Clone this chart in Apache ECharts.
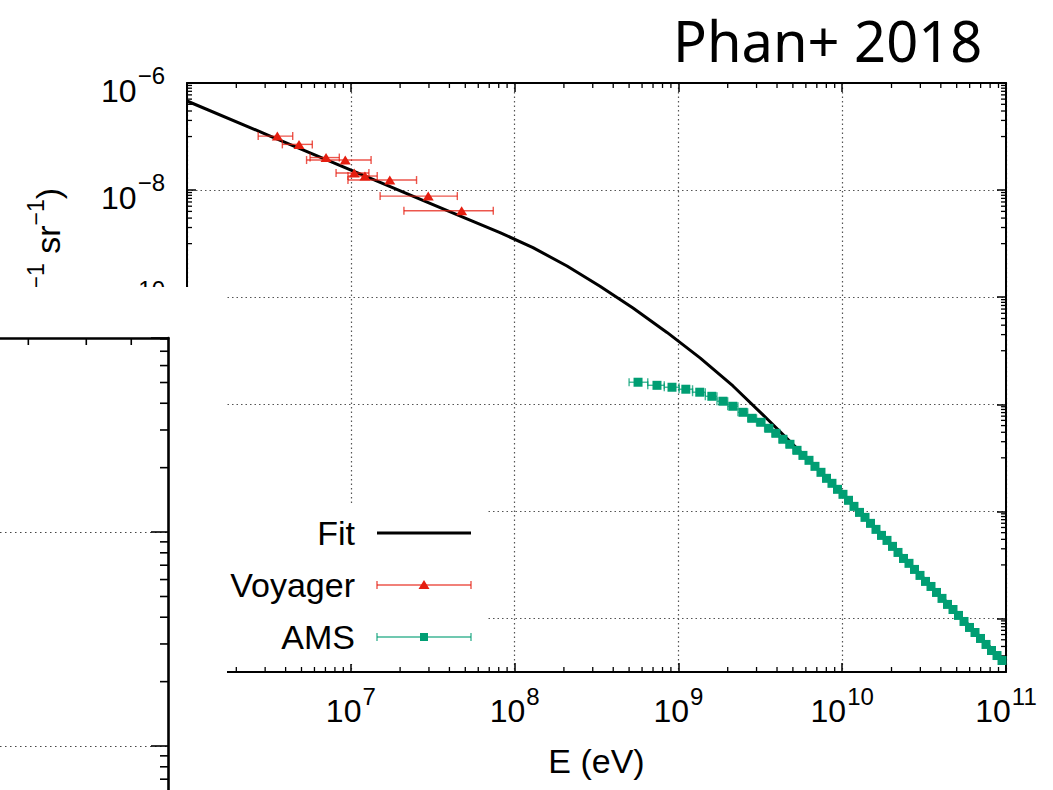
<!DOCTYPE html>
<html><head><meta charset="utf-8">
<script src="https://cdn.jsdelivr.net/npm/echarts@6/dist/echarts.min.js"></script>
<style>html,body{margin:0;padding:0;background:#fff}#c{width:1053px;height:790px}</style>
</head><body><div id="c"></div>
<script>
// ---------------- data (energies in eV, flux J) ----------------
const fitE = [1.000e6, 3.167e6, 1.003e7, 3.176e7, 5.122e7, 8.145e7, 1.295e8, 2.089e8, 3.322e8, 5.282e8, 8.519e8, 1.355e9, 2.154e9, 3.475e9, 5.525e9, 9.97e9, 2.254e10, 4.55e10, 1.000e11];
const fitJ = [4.61e-7, 1.044e-7, 2.365e-8, 5.36e-9, 2.895e-9, 1.606e-9, 8.42e-10, 3.815e-10, 1.606e-10, 6.256e-11, 2.198e-11, 7.365e-12, 2.198e-12, 5.36e-13, 1.323e-13, 2.17e-14, 1.626e-15, 1.75e-16, 1.429e-17];

const voyagerE = [3.56e6, 4.83e6, 7.06e6, 9.25e6, 1.05e7, 1.22e7, 1.73e7, 2.97e7, 4.75e7];
const voyagerELow = [2.72e6, 3.82e6, 5.64e6, 5.37e6, 8.13e6, 9.61e6, 9.61e6, 1.51e7, 2.11e7];
const voyagerEHigh = [4.42e6, 5.82e6, 8.51e6, 1.33e7, 1.29e7, 1.45e7, 2.52e7, 4.47e7, 7.41e7];
const voyagerJ = [1.02e-7, 7.14e-8, 4.05e-8, 3.64e-8, 2.08e-8, 1.83e-8, 1.54e-8, 7.73e-9, 4.10e-9];

const amsE = [5.67e8, 7.40e8, 9.14e8, 1.11e9, 1.35e9, 1.60e9, 1.87e9, 2.15e9, 2.48e9, 2.81e9, 3.19e9, 3.57e9, 3.94e9, 4.35e9, 4.80e9, 5.30e9, 5.76e9, 6.27e9, 6.82e9, 7.42e9, 8.02e9, 8.66e9, 9.36e9, 1.011e10, 1.093e10, 1.180e10, 1.275e10, 1.378e10, 1.489e10, 1.608e10, 1.738e10, 1.877e10, 2.028e10, 2.191e10, 2.367e10, 2.557e10, 2.763e10, 2.985e10, 3.225e10, 3.484e10, 3.765e10, 4.067e10, 4.394e10, 4.747e10, 5.129e10, 5.541e10, 5.987e10, 6.468e10, 6.988e10, 7.550e10, 8.157e10, 8.813e10, 9.455e10];
const amsJ = [2.58e-12, 2.26e-12, 2.08e-12, 1.91e-12, 1.68e-12, 1.41e-12, 1.14e-12, 9.18e-13, 7.08e-13, 5.47e-13, 4.61e-13, 3.56e-13, 2.87e-13, 2.22e-13, 1.79e-13, 1.38e-13, 1.11e-13, 8.98e-14, 6.93e-14, 5.36e-14, 4.14e-14, 3.34e-14, 2.58e-14, 2.08e-14, 1.61e-14, 1.24e-14, 9.57e-15, 7.73e-15, 5.97e-15, 4.61e-15, 3.56e-15, 2.87e-15, 2.22e-15, 1.71e-15, 1.32e-15, 1.07e-15, 8.24e-16, 6.37e-16, 4.92e-16, 3.96e-16, 3.06e-16, 2.37e-16, 1.83e-16, 1.47e-16, 1.14e-16, 8.79e-17, 6.79e-17, 5.47e-17, 4.23e-17, 3.27e-17, 2.52e-17, 2.03e-17, 1.64e-17];
const amsEdges = [5.0e8, 6.5e8, 8.2e8, 1.01e9, 1.22e9, 1.46e9, 1.72e9, 2.0e9, 2.31e9, 2.65e9, 3.0e9, 3.36e9, 3.73e9, 4.12e9, 4.54e9, 5.0e9, 5.49e9, 6.0e9, 6.54e9, 7.1e9, 7.72e9, 8.34e9, 9.0e9, 9.73e9, 1.051e10, 1.136e10, 1.227e10, 1.326e10, 1.433e10, 1.548e10, 1.672e10, 1.807e10, 1.951e10, 2.108e10, 2.278e10, 2.461e10, 2.659e10, 2.873e10, 3.104e10, 3.353e10, 3.622e10, 3.913e10, 4.228e10, 4.568e10, 4.935e10, 5.332e10, 5.761e10, 6.224e10, 6.724e10, 7.265e10, 7.849e10, 8.480e10, 9.16e10, 9.8e10];

// axis decades (exponents)
const xDecades = [6, 7, 8, 9, 10, 11];          // E from 1e6 to 1e11
const yDecades = [-6, -8, -10, -12, -14, -16];   // labelled flux decades
const yMinExp = -17, yMaxExp = -6;

const seriesNames = ['Fit', 'Voyager', 'AMS'];
const xTitle = 'E (eV)';
const yTitle = 'j (eV{s|−1} cm{s|−2} s{s|−1} sr{s|−1})';
const cornerTitle = 'Phan+ 2018';

// ---------------- helpers ----------------
const lx = v => Math.log10(v);
const ny = v => -Math.log10(v);     // y axis is inverted: -log10(J)
const FONT = "'Liberation Sans', Arial, Helvetica, sans-serif";
const RED = '#e51e10', GREEN = '#009e73';

const rich = {
  b: {fontSize: 32, fontFamily: FONT, color: '#000', lineHeight: 35, height: 20, verticalAlign: 'bottom'},
  s: {fontSize: 24, fontFamily: FONT, color: '#000', lineHeight: 35, height: 20, verticalAlign: 'top', padding: [0, 0, 0, 1]}
};
const xfmt = v => (Number.isInteger(v) && v > xDecades[0]) ? '{b|10}{s|' + v + '}' : '';
const yfmt = v => (yDecades.indexOf(-v) >= 0) ? '{b|10}{s|−' + v + '}' : '';

// minor ticks (gnuplot style log ticks)
const mainMinor = [];
for (let n = xDecades[0]; n < xDecades[xDecades.length - 1]; n++)
  for (let k = 2; k <= 9; k++) mainMinor.push([n + lx(k), -yMaxExp, 0]);
for (let e = yMaxExp - 1; e >= yMinExp; e -= 2)
  for (let k = 1; k <= 9; k++) {
    const v = -e - lx(k);
    if (v > -yMaxExp && v < -yMinExp) mainMinor.push([xDecades[0], v, 1]);
  }

// fragment of the neighbouring panel (bottom-left)
const fragXMin = lx(6) - 168 / 464, fragXMax = lx(6);
const fragYMin = -3, fragYMax = 0.907;
const fragTicks = [];
[3, 4, 5].forEach(k => fragTicks.push([lx(k), fragYMax, 0]));
for (let n = -3; n <= 0; n++)
  for (let k = 2; k <= 9; k++) {
    const v = n + lx(k);
    if (v > fragYMin && v < fragYMax) fragTicks.push([fragXMax, v, 1]);
  }

function errRender(color) {
  return function (params, api) {
    const a = api.coord([api.value(0), api.value(2)]);
    const b = api.coord([api.value(1), api.value(2)]);
    const st = {stroke: color, lineWidth: 1.4, opacity: 0.75};
    return {type: 'group', children: [
      {type: 'line', shape: {x1: a[0], y1: a[1], x2: b[0], y2: b[1]}, style: st},
      {type: 'line', shape: {x1: a[0], y1: a[1] - 4, x2: a[0], y2: a[1] + 4}, style: st},
      {type: 'line', shape: {x1: b[0], y1: b[1] - 4, x2: b[0], y2: b[1] + 4}, style: st}
    ]};
  };
}

function mainMinorRender(params, api) {
  const v0 = api.value(0), v1 = api.value(1), kind = api.value(2);
  const st = {stroke: '#000', lineWidth: 1.3};
  if (kind === 0) {
    const t = api.coord([v0, -yMaxExp]), b = api.coord([v0, -yMinExp]);
    return {type: 'group', children: [
      {type: 'line', shape: {x1: t[0], y1: t[1], x2: t[0], y2: t[1] + 5}, style: st},
      {type: 'line', shape: {x1: b[0], y1: b[1], x2: b[0], y2: b[1] - 5}, style: st}]};
  }
  const l = api.coord([xDecades[0], v1]), r = api.coord([xDecades[xDecades.length - 1], v1]);
  return {type: 'group', children: [
    {type: 'line', shape: {x1: l[0], y1: l[1], x2: l[0] + 5, y2: l[1]}, style: st},
    {type: 'line', shape: {x1: r[0], y1: r[1], x2: r[0] - 5, y2: r[1]}, style: st}]};
}

function fragRender(params, api) {
  const p = api.coord([api.value(0), api.value(1)]);
  const st = {stroke: '#000', lineWidth: 1.6};
  if (api.value(2) === 0)
    return {type: 'line', shape: {x1: p[0], y1: p[1], x2: p[0], y2: p[1] + 7}, style: st};
  return {type: 'line', shape: {x1: p[0], y1: p[1], x2: p[0] - 8, y2: p[1]}, style: st};
}

const dotted = {type: [1.5, 3], color: '#555', width: 1.2};
const axisLineStyle = {color: '#000', width: 2};
const majorTick = {show: true, inside: true, length: 9, lineStyle: {color: '#000', width: 1.5}};

const option = {
  animation: false,
  backgroundColor: '#fff',
  grid: [
    {left: 187, top: 83, width: 819, height: 589, outerBoundsMode: 'none', containLabel: false},
    {left: 0, top: 338, width: 168, height: 836, outerBoundsMode: 'none', containLabel: false}
  ],
  xAxis: [
    {gridIndex: 0, type: 'value', min: xDecades[0], max: xDecades[xDecades.length - 1], interval: 1, position: 'bottom',
     axisLine: {show: true, onZero: false, lineStyle: axisLineStyle}, axisTick: majorTick,
     axisLabel: {margin: 14, formatter: xfmt, rich: rich},
     splitLine: {show: true, lineStyle: dotted},
     name: xTitle, nameLocation: 'middle', nameGap: 72,
     nameTextStyle: {fontSize: 34, fontFamily: FONT, color: '#000'}},
    {gridIndex: 0, type: 'value', min: xDecades[0], max: xDecades[xDecades.length - 1], interval: 1, position: 'top',
     axisLine: {show: true, onZero: false, lineStyle: axisLineStyle}, axisTick: majorTick,
     axisLabel: {show: false}, splitLine: {show: false}},
    {gridIndex: 1, type: 'value', min: fragXMin, max: fragXMax, position: 'top', z: 20,
     axisLine: {show: true, onZero: false, lineStyle: {color: '#000', width: 2.6}},
     axisTick: {show: false}, axisLabel: {show: false}, splitLine: {show: false}}
  ],
  yAxis: [
    {gridIndex: 0, type: 'value', min: -yMaxExp, max: -yMinExp, interval: 2, inverse: true, position: 'left',
     axisLine: {show: true, onZero: false, lineStyle: axisLineStyle}, axisTick: majorTick,
     axisLabel: {margin: 22, formatter: yfmt, rich: rich},
     splitLine: {show: true, lineStyle: dotted}},
    {gridIndex: 0, type: 'value', min: -yMaxExp, max: -yMinExp, interval: 2, inverse: true, position: 'right',
     axisLine: {show: true, onZero: false, lineStyle: axisLineStyle}, axisTick: majorTick,
     axisLabel: {show: false}, splitLine: {show: false}},
    {gridIndex: 1, type: 'value', min: fragYMin, max: fragYMax, interval: 1, position: 'right', z: 20,
     axisLine: {show: true, onZero: false, lineStyle: {color: '#000', width: 2.6}},
     axisTick: {show: true, inside: true, length: 17, lineStyle: {color: '#000', width: 1.6}},
     axisLabel: {show: false},
     splitLine: {show: true, lineStyle: {type: [1.5, 3.5], color: '#444', width: 1.2}}}
  ],
  series: [
    {type: 'custom', name: 'minorTicks', xAxisIndex: 0, yAxisIndex: 0, z: 3, silent: true,
     renderItem: mainMinorRender, data: mainMinor, encode: {x: 0, y: 1}},
    {type: 'line', name: seriesNames[0], xAxisIndex: 0, yAxisIndex: 0, z: 4,
     data: fitE.map((e, i) => [lx(e), ny(fitJ[i])]),
     showSymbol: false, smooth: false,
     lineStyle: {color: '#000', width: 3, join: 'round'}},
    {type: 'custom', name: seriesNames[1] + ' err', xAxisIndex: 0, yAxisIndex: 0, z: 5,
     renderItem: errRender(RED), encode: {x: [0, 1], y: 2},
     data: voyagerE.map((e, i) => [lx(voyagerELow[i]), lx(voyagerEHigh[i]), ny(voyagerJ[i])])},
    {type: 'scatter', name: seriesNames[1], xAxisIndex: 0, yAxisIndex: 0, z: 6,
     symbol: 'triangle', symbolSize: [11, 9], itemStyle: {color: RED, opacity: 1},
     data: voyagerE.map((e, i) => [lx(e), ny(voyagerJ[i])])},
    {type: 'custom', name: seriesNames[2] + ' err', xAxisIndex: 0, yAxisIndex: 0, z: 7,
     renderItem: errRender(GREEN), encode: {x: [0, 1], y: 2},
     data: amsE.map((e, i) => [lx(amsEdges[i]), lx(amsEdges[i + 1]), ny(amsJ[i])])},
    {type: 'scatter', name: seriesNames[2], xAxisIndex: 0, yAxisIndex: 0, z: 8,
     symbol: 'rect', symbolSize: 9, itemStyle: {color: GREEN, opacity: 1},
     data: amsE.map((e, i) => [lx(e), ny(amsJ[i])])},
    {type: 'custom', name: 'fragTicks', xAxisIndex: 2, yAxisIndex: 2, z: 21, silent: true,
     renderItem: fragRender, data: fragTicks, encode: {x: 0, y: 1}}
  ],
  graphic: [
    // rotated y-axis title (mostly hidden behind the overlapping panel)
    {type: 'text', x: 70, y: 188, rotation: Math.PI / 2, z: 1, silent: true,
     style: {text: yTitle, fontSize: 34, fontFamily: FONT, fill: '#000', lineHeight: 44,
       align: 'right', textAlign: 'right', verticalAlign: 'bottom', textVerticalAlign: 'bottom',
       rich: {s: {fontSize: 23, fontFamily: FONT, verticalAlign: 'top', height: 20, lineHeight: 44}}}},
    // opaque key box
    {type: 'rect', shape: {x: 227, y: 506, width: 261, height: 158}, style: {fill: '#fff'}, z: 9, silent: true},
    // key
    {type: 'text', x: 355, y: 533, z: 12, style: {text: seriesNames[0], fontSize: 34, fontFamily: FONT, fill: '#000', align: 'right', textAlign: 'right', verticalAlign: 'middle', textVerticalAlign: 'middle'}},
    {type: 'line', z: 12, shape: {x1: 377, y1: 533, x2: 471, y2: 533}, style: {stroke: '#000', lineWidth: 3}},
    {type: 'text', x: 355, y: 585, z: 12, style: {text: seriesNames[1], fontSize: 34, fontFamily: FONT, fill: '#000', align: 'right', textAlign: 'right', verticalAlign: 'middle', textVerticalAlign: 'middle'}},
    {type: 'line', z: 12, shape: {x1: 377, y1: 585, x2: 471, y2: 585}, style: {stroke: RED, lineWidth: 1.4, opacity: 0.75}},
    {type: 'line', z: 12, shape: {x1: 377, y1: 581, x2: 377, y2: 589}, style: {stroke: RED, lineWidth: 1.4, opacity: 0.75}},
    {type: 'line', z: 12, shape: {x1: 471, y1: 581, x2: 471, y2: 589}, style: {stroke: RED, lineWidth: 1.4, opacity: 0.75}},
    {type: 'polygon', z: 13, shape: {points: [[424, 580], [418.5, 589], [429.5, 589]]}, style: {fill: RED}},
    {type: 'text', x: 355, y: 637, z: 12, style: {text: seriesNames[2], fontSize: 34, fontFamily: FONT, fill: '#000', align: 'right', textAlign: 'right', verticalAlign: 'middle', textVerticalAlign: 'middle'}},
    {type: 'line', z: 12, shape: {x1: 377, y1: 637, x2: 471, y2: 637}, style: {stroke: GREEN, lineWidth: 1.4, opacity: 0.75}},
    {type: 'line', z: 12, shape: {x1: 377, y1: 633, x2: 377, y2: 641}, style: {stroke: GREEN, lineWidth: 1.4, opacity: 0.75}},
    {type: 'line', z: 12, shape: {x1: 471, y1: 633, x2: 471, y2: 641}, style: {stroke: GREEN, lineWidth: 1.4, opacity: 0.75}},
    {type: 'rect', z: 13, shape: {x: 420, y: 633, width: 8, height: 8}, style: {fill: GREEN}},
    // white panel overlapping the lower-left corner
    {type: 'rect', shape: {x: 0, y: 287, width: 227, height: 503}, style: {fill: '#fff'}, z: 15, silent: true},
    // corner label
    {type: 'text', x: 673, y: 40, z: 30,
     style: {text: cornerTitle, fontSize: 56, fontFamily: "'Comic Sans MS', 'Noto Sans', sans-serif", fill: '#000',
       align: 'left', textAlign: 'left', verticalAlign: 'middle', textVerticalAlign: 'middle'}}
  ]
};

const chart = echarts.init(document.getElementById('c'), null, {renderer: 'svg', width: 1053, height: 790});
chart.setOption(option);
</script>
</body></html>
